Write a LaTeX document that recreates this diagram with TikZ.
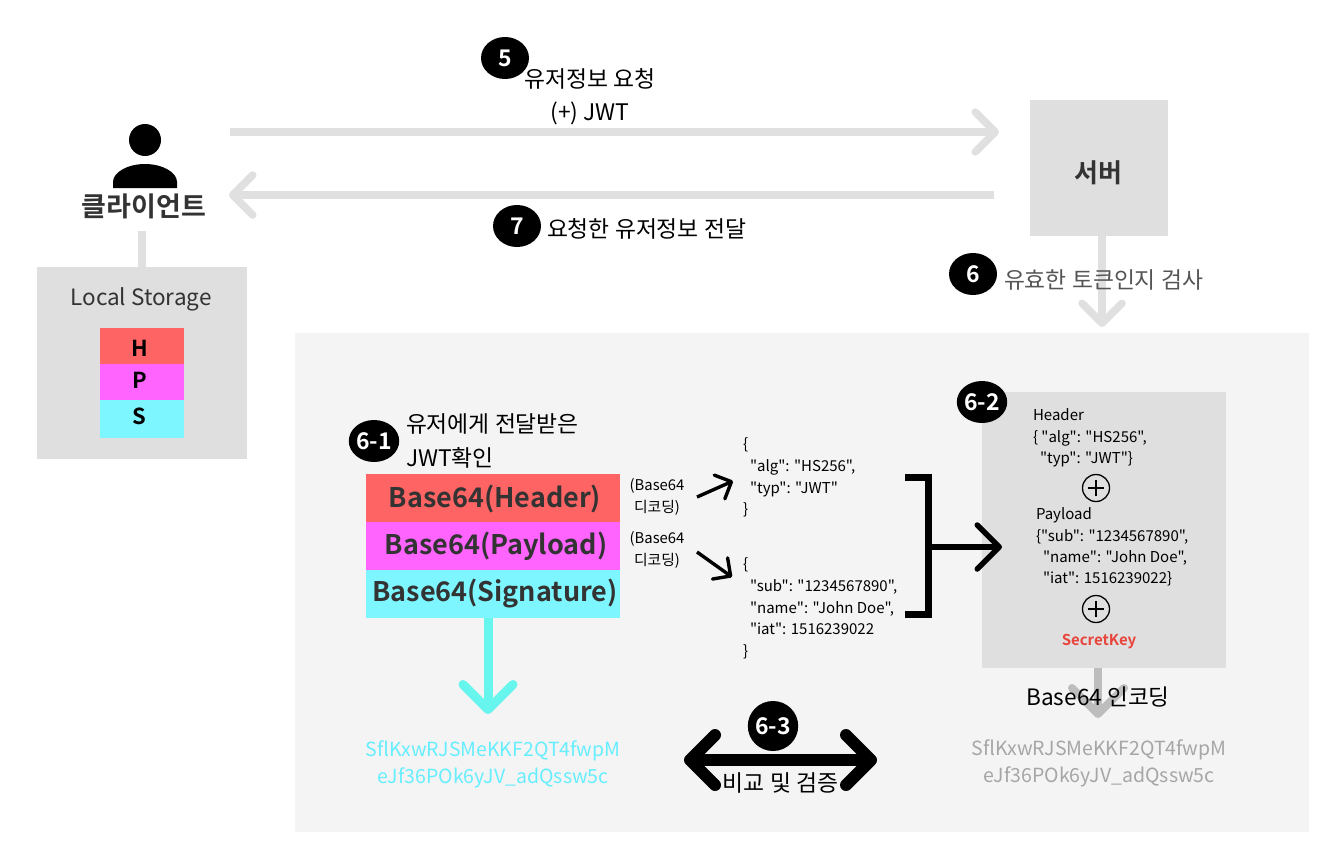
\documentclass[tikz,border=0pt]{standalone}
\usepackage{fontspec}
\setmainfont{Noto Sans CJK KR}[BoldFont={Noto Sans CJK KR Bold},Ligatures=TeXOff]
\usetikzlibrary{arrows.meta,shapes.geometric}
\definecolor{lgray}{HTML}{E0E0E0}
\definecolor{boxgray}{HTML}{DFDFDF}
\definecolor{panelgray}{HTML}{F4F4F4}
\definecolor{hred}{HTML}{FF6464}
\definecolor{pmag}{HTML}{FF64FF}
\definecolor{scyan}{HTML}{7DF6FF}
\definecolor{arrowcyan}{HTML}{66F6EE}
\definecolor{txtcyan}{HTML}{66EEFF}
\definecolor{dark}{HTML}{333333}
\definecolor{midgray}{HTML}{555555}
\definecolor{keyred}{HTML}{E8453C}
\definecolor{encgray}{HTML}{BDBDBD}
\newcommand{\fs}[2]{\fontsize{#1}{#2}\selectfont}
\tikzset{
  area/.style={inner sep=0pt,outer sep=0pt,anchor=center},
  badge/.style={ellipse,fill=black,text=white,inner sep=0pt,font=\fs{23}{26}\bfseries},
  txt/.style={inner sep=0pt,outer sep=0pt,font=\fs{22.8}{33.5}\selectfont,align=center},
  small/.style={inner sep=0pt,outer sep=0pt,font=\fs{15}{21.6}\selectfont,align=left,anchor=north west},
  smallc/.style={inner sep=0pt,outer sep=0pt,font=\fs{14.8}{22}\selectfont,align=center},
  boxt/.style={inner sep=0pt,outer sep=0pt,font=\fs{15}{21.2}\selectfont,align=left,anchor=north west},
  bartxt/.style={inner sep=0pt,font=\fs{27}{32}\bfseries,text=dark},
  pst/.style={inner sep=0pt,font=\fs{22}{24}\bfseries},
  barb/.style={-{Straight Barb[length=#1,width=2*#1,round]}},
  grayarrow/.style={draw=lgray,line width=7.5pt,barb=20pt},
  blackarrow/.style={draw=black,line width=5.5pt,barb=22pt},
  thinarrow/.style={draw=black,line width=3.4pt,barb=13pt},
  plus/.style={circle,draw=black,line width=1.3pt,minimum size=27pt,inner sep=0pt}
}
\begin{document}
\begin{tikzpicture}[x=1pt,y=-1pt]
\fill[white] (0,0) rectangle (1330,862);
\useasboundingbox (0,0) rectangle (1330,862);

% panels
\node[area,fill=panelgray,minimum width=1014pt,minimum height=499pt] (panel) at (802,582.5) {};
\node[area,fill=boxgray,minimum width=210pt,minimum height=192pt] (storage) at (142,363) {};
\node[area,fill=boxgray,minimum width=138pt,minimum height=136pt] (server) at (1099,168) {};
\node[area,fill=boxgray,minimum width=244pt,minimum height=276pt] (jwtbox) at (1104,530) {};

% client
\fill[black] (145,140) circle (16);
\fill[black] (113,188) -- (113,182) .. controls (113,172) and (128,164) .. (145,164) .. controls (162,164) and (177,172) .. (177,182) -- (177,188) -- cycle;
\node[inner sep=0pt,font=\fs{27}{32}\bfseries,text=dark] (client) at (144,206) {클라이언트};
\node[inner sep=0pt,font=\fs{26}{32}\bfseries,text=dark] (serverlabel) at (1098,173) {서버};

% free ends
\coordinate (reqS) at (230,132);
\coordinate (reqE) at (999,132);
\coordinate (resS) at (994,195);
\coordinate (resE) at (229,195);
\coordinate (clientS) at (142,231);
\coordinate (checkE) at (1102,327);
\coordinate (sigE) at (488,714);
\coordinate (encE) at (1098,718);
\coordinate (cmpL) at (684,760);
\coordinate (cmpR) at (877,760);
\coordinate (brTop) at (905,477.7);
\coordinate (brTopC) at (928.3,477.7);
\coordinate (brBot) at (905,614.3);
\coordinate (brBotC) at (928.3,614.3);
\coordinate (brMid) at (930,547);
\coordinate (brE) at (1002,547);
\coordinate (d1S) at (697,497);
\coordinate (d1E) at (733,481);
\coordinate (d2S) at (697,552);
\coordinate (d2E) at (732,577);

% connectors
\draw[grayarrow] (reqS) -- (reqE);
\draw[grayarrow] (resS) -- (resE);
\draw[draw=lgray,line width=8pt] (clientS) -- (storage.north);
\draw[grayarrow] ([xshift=3pt]server.south) -- (checkE);

% stored token
\node[area,fill=hred,minimum width=84pt,minimum height=36pt] (sh) at (142,346) {};
\node[area,fill=pmag,minimum width=84pt,minimum height=36pt] (sp) at (142,382) {};
\node[area,fill=scyan,minimum width=84pt,minimum height=38pt] (ss) at (142,419) {};
\node[pst] (sht) at (140,348.5) {H};
\node[pst] (spt) at (140,380) {P};
\node[pst] (sst) at (139,416) {S};
\node[txt,font=\fs{22.5}{26}\selectfont,text=dark] (lslabel) at (141,299) {Local Storage};

% labels top
\node[badge,minimum width=48pt,minimum height=42pt] (b5) at (505,58) {5};
\node[txt,anchor=center] (reqtxt) at (590,97) {유저정보 요청\\(+) JWT};
\node[badge,minimum width=48pt,minimum height=42pt] (b7) at (517,226) {7};
\node[txt,anchor=west] (restxt) at (547,229) {요청한 유저정보 전달};
\node[badge,minimum width=48pt,minimum height=42pt] (b6) at (973,274) {6};
\node[txt,anchor=west,text=midgray] (chktxt) at (1004,280) {유효한 토큰인지 검사};

% 6-1
\node[badge,minimum width=48pt,minimum height=42pt] (b61) at (374,441) {6-1};
\node[txt,align=left,anchor=west] (t61) at (406,441) {유저에게 전달받은\\JWT확인};
\node[area,fill=hred,minimum width=254pt,minimum height=48pt] (barh) at (493,498) {};
\node[area,fill=pmag,minimum width=254pt,minimum height=48pt] (barp) at (493,546) {};
\node[area,fill=scyan,minimum width=254pt,minimum height=48pt] (bars) at (493,594) {};
\node[bartxt] (barht) at (495,499) {Base64(Header)};
\node[bartxt] (barpt) at (496,546) {Base64(Payload)};
\node[bartxt] (barst) at (495,594) {Base64(Signature)};
\node[smallc] (dec1) at (657,497) {(Base64\\디코딩)};
\node[smallc] (dec2) at (657,550) {(Base64\\디코딩)};
\draw[thinarrow] (d1S) -- (d1E);
\draw[thinarrow] (d2S) -- (d2E);
\node[small] (js1) at (743,438) {\{\\\hspace*{7pt}"alg": "HS256",\\\hspace*{7pt}"typ": "JWT"\\\}};
\node[small] (js2) at (743,558) {\{\\\hspace*{7pt}"sub": "1234567890",\\\hspace*{7pt}"name": "John Doe",\\\hspace*{7pt}"iat": 1516239022\\\}};

% bracket
\draw[black,line width=7.5pt,line cap=butt,line join=miter] (brTop) -- (brTopC) -- (brBotC) -- (brBot);
\draw[blackarrow] (brMid) -- (brE);

% signature result
\draw[draw=arrowcyan,line width=9pt,barb=25pt] ([xshift=-5pt]bars.south) -- (sigE);
\node[txt,font=\fs{19.5}{27}\selectfont,text=txtcyan] (sigA) at (493,764) {SflKxwRJSMeKKF2QT4fwpM\\eJf36POk6yJV\_adQssw5c};

% compare
\draw[draw=black,line width=12pt,{Straight Barb[length=25pt,width=50pt,round]}-{Straight Barb[length=25pt,width=50pt,round]}] (cmpL) -- (cmpR);
\node[badge,minimum width=48pt,minimum height=50pt] (b63) at (773,726) {6-3};
\node[txt] (cmptxt) at (780.5,783) {비교 및 검증};

% 6-2
\node[badge,minimum width=48pt,minimum height=42pt] (b62) at (982,402) {6-2};
\node[boxt] (hdr) at (1033,409) {Header\\\{ "alg": "HS256",\\\hspace*{7pt}"typ": "JWT"\}};
\node[plus] (p1) at (1096,488) {};
\draw[line width=1.3pt] ([xshift=-8pt]p1.center) -- ([xshift=8pt]p1.center);
\draw[line width=1.3pt] ([yshift=-8pt]p1.center) -- ([yshift=8pt]p1.center);
\node[boxt] (pay) at (1036,508) {Payload\\\{"sub": "1234567890",\\\hspace*{7pt}"name": "John Doe",\\\hspace*{7pt}"iat": 1516239022\}};
\node[plus] (p2) at (1096,609) {};
\draw[line width=1.3pt] ([xshift=-8pt]p2.center) -- ([xshift=8pt]p2.center);
\draw[line width=1.3pt] ([yshift=-8pt]p2.center) -- ([yshift=8pt]p2.center);
\node[inner sep=0pt,font=\fs{15}{20}\bfseries,text=keyred] (key) at (1099,642) {SecretKey};

% encoding
\draw[draw=encgray,line width=8pt,barb=26pt] ([xshift=-6pt]jwtbox.south) -- (encE);
\node[txt,font=\fs{22.6}{26}\selectfont] (enc) at (1098,697) {Base64 인코딩};
\node[txt,font=\fs{19.5}{27}\selectfont,text=black!35] (sigB) at (1099,763) {SflKxwRJSMeKKF2QT4fwpM\\eJf36POk6yJV\_adQssw5c};
\end{tikzpicture}
\end{document}
